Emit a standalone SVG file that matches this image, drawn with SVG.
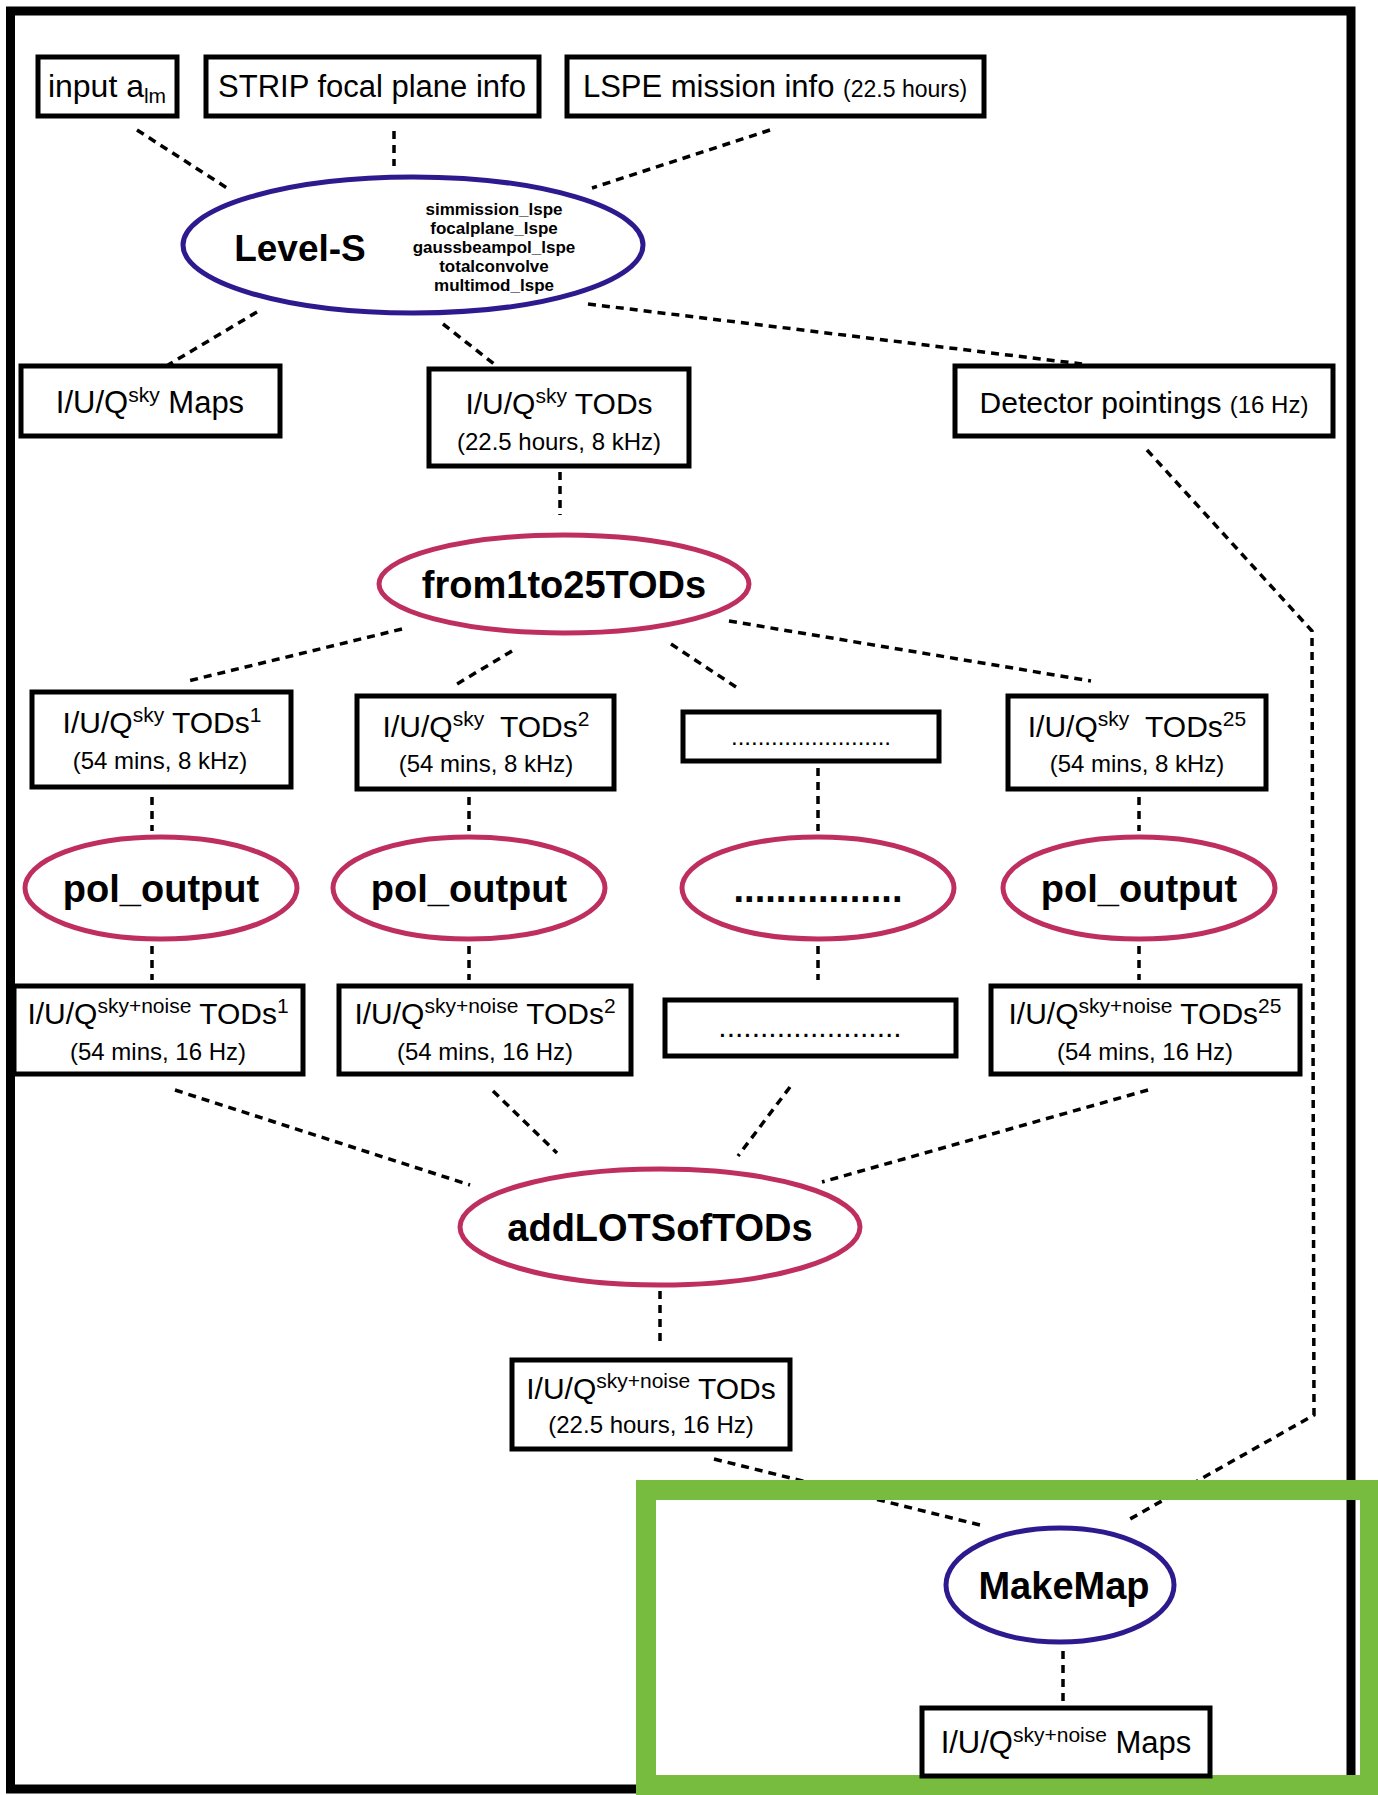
<svg xmlns="http://www.w3.org/2000/svg" width="1378" height="1795" viewBox="0 0 1378 1795">
<style>
text{font-family:"Liberation Sans",Arial,sans-serif;fill:#000}
.box{fill:#fff;stroke:#000;stroke-width:5}
.pink{fill:#fff;stroke:#BE2F5F;stroke-width:5}
.blue{fill:#fff;stroke:#2E1A8E;stroke-width:5}
.c line,.c path{fill:none;stroke:#000;stroke-width:3.5;stroke-dasharray:8 6}
.t{font-size:30px;text-anchor:middle}
.s{font-size:24px;text-anchor:middle}
.b{font-weight:bold;text-anchor:middle;font-size:38px}
.l{font-weight:bold;font-size:17px;text-anchor:middle}
</style>
<rect x="0" y="0" width="1378" height="1795" fill="#fff"/>
<rect x="10.5" y="11" width="1340.5" height="1778" fill="none" stroke="#000" stroke-width="9"/>

<g class="c" id="connectors">
<line x1="137" y1="130" x2="227" y2="188"/>
<line x1="394" y1="131" x2="394" y2="166"/>
<line x1="770" y1="130" x2="592" y2="188"/>
<line x1="257" y1="312" x2="168" y2="365"/>
<line x1="443" y1="324" x2="494" y2="364"/>
<line x1="588" y1="304" x2="1082" y2="364"/>
<line x1="560" y1="472" x2="560" y2="515"/>
<line x1="402" y1="629" x2="188" y2="681"/>
<line x1="512" y1="651" x2="457" y2="684"/>
<line x1="671" y1="644" x2="736" y2="687"/>
<line x1="729" y1="621" x2="1091" y2="681"/>
<line x1="152" y1="797" x2="152" y2="831"/>
<line x1="469" y1="797" x2="469" y2="831"/>
<line x1="818" y1="768" x2="818" y2="831"/>
<line x1="1139" y1="797" x2="1139" y2="831"/>
<line x1="152" y1="946" x2="152" y2="980"/>
<line x1="469" y1="946" x2="469" y2="980"/>
<line x1="818" y1="946" x2="818" y2="980"/>
<line x1="1139" y1="946" x2="1139" y2="980"/>
<line x1="175" y1="1090" x2="470" y2="1185"/>
<line x1="493" y1="1091" x2="557" y2="1153"/>
<line x1="790" y1="1087" x2="738" y2="1156"/>
<line x1="1148" y1="1090" x2="822" y2="1182"/>
<line x1="660" y1="1291" x2="660" y2="1341"/>
<line x1="714" y1="1459" x2="984" y2="1526"/>
<path d="M1147,450 L1312,631 L1314,1415 L1130,1519"/>
<line x1="1063" y1="1651" x2="1063" y2="1702"/>
</g>

<g id="input_alm">
<rect class="box" x="38" y="57" width="139" height="59"/>
<text class="t" x="107" y="97" style="font-size:32px">input a<tspan font-size="21" dy="6">lm</tspan></text>
</g>
<g id="strip">
<rect class="box" x="206" y="57" width="333" height="59"/>
<text class="t" x="372" y="97" style="font-size:31px">STRIP focal plane info</text>
</g>
<g id="lspe">
<rect class="box" x="567" y="57" width="417" height="59"/>
<text class="t" x="775" y="97" style="font-size:31px">LSPE mission info <tspan font-size="23">(22.5 hours)</tspan></text>
</g>

<g id="levels">
<ellipse class="blue" cx="413" cy="245" rx="230" ry="68"/>
<text class="b" x="300" y="261" style="font-size:37px">Level-S</text>
<text class="l" x="494" y="215">simmission_lspe</text>
<text class="l" x="494" y="234">focalplane_lspe</text>
<text class="l" x="494" y="253">gaussbeampol_lspe</text>
<text class="l" x="494" y="272">totalconvolve</text>
<text class="l" x="494" y="291">multimod_lspe</text>
</g>

<g id="sky_maps">
<rect class="box" x="21" y="366" width="259" height="70"/>
<text class="t" x="150" y="413" style="font-size:31px">I/U/Q<tspan font-size="21" dy="-11">sky</tspan><tspan dy="11"> Maps</tspan></text>
</g>
<g id="sky_tods">
<rect class="box" x="429" y="369" width="260" height="97"/>
<text class="t" x="559" y="414">I/U/Q<tspan font-size="21" dy="-11">sky</tspan><tspan dy="11"> TODs</tspan></text>
<text class="s" x="559" y="450">(22.5 hours, 8 kHz)</text>
</g>
<g id="detector">
<rect class="box" x="955" y="366" width="378" height="70"/>
<text class="t" x="1144" y="413">Detector pointings <tspan font-size="24">(16 Hz)</tspan></text>
</g>

<g id="from1to25">
<ellipse class="pink" cx="564" cy="584" rx="185" ry="49"/>
<text class="b" x="564" y="598">from1to25TODs</text>
</g>

<g id="tods1">
<rect class="box" x="32" y="692" width="259" height="95"/>
<text class="t" x="162" y="733">I/U/Q<tspan font-size="21" dy="-11">sky</tspan><tspan dy="11"> TODs</tspan><tspan font-size="21" dy="-11">1</tspan></text>
<text class="s" x="160" y="769">(54 mins, 8 kHz)</text>
</g>
<g id="tods2">
<rect class="box" x="357" y="696" width="257" height="93"/>
<text class="t" x="486" y="737">I/U/Q<tspan font-size="21" dy="-11">sky</tspan><tspan dy="11" dx="8"> TODs</tspan><tspan font-size="21" dy="-11">2</tspan></text>
<text class="s" x="486" y="772">(54 mins, 8 kHz)</text>
</g>
<g id="tods_dots">
<rect class="box" x="683" y="712" width="256" height="49"/>
<text class="s" x="811" y="745">........................</text>
</g>
<g id="tods25">
<rect class="box" x="1008" y="696" width="258" height="93"/>
<text class="t" x="1137" y="737">I/U/Q<tspan font-size="21" dy="-11">sky</tspan><tspan dy="11" dx="8"> TODs</tspan><tspan font-size="21" dy="-11">25</tspan></text>
<text class="s" x="1137" y="772">(54 mins, 8 kHz)</text>
</g>

<g id="pol1">
<ellipse class="pink" cx="161" cy="888" rx="136" ry="51"/>
<text class="b" x="161" y="902">pol_output</text>
</g>
<g id="pol2">
<ellipse class="pink" cx="469" cy="888" rx="136" ry="51"/>
<text class="b" x="469" y="902">pol_output</text>
</g>
<g id="pol_dots">
<ellipse class="pink" cx="818" cy="888" rx="136" ry="51"/>
<text class="b" x="818" y="902">................</text>
</g>
<g id="pol25">
<ellipse class="pink" cx="1139" cy="888" rx="136" ry="51"/>
<text class="b" x="1139" y="902">pol_output</text>
</g>

<g id="noise1">
<rect class="box" x="14" y="986" width="289" height="88"/>
<text class="t" x="158" y="1024">I/U/Q<tspan font-size="21" dy="-11">sky+noise</tspan><tspan dy="11"> TODs</tspan><tspan font-size="21" dy="-11">1</tspan></text>
<text class="s" x="158" y="1060">(54 mins, 16 Hz)</text>
</g>
<g id="noise2">
<rect class="box" x="339" y="986" width="292" height="88"/>
<text class="t" x="485" y="1024">I/U/Q<tspan font-size="21" dy="-11">sky+noise</tspan><tspan dy="11"> TODs</tspan><tspan font-size="21" dy="-11">2</tspan></text>
<text class="s" x="485" y="1060">(54 mins, 16 Hz)</text>
</g>
<g id="noise_dots">
<rect class="box" x="665" y="1000" width="291" height="56"/>
<text class="t" x="810" y="1037">......................</text>
</g>
<g id="noise25">
<rect class="box" x="991" y="986" width="309" height="88"/>
<text class="t" x="1145" y="1024">I/U/Q<tspan font-size="21" dy="-11">sky+noise</tspan><tspan dy="11"> TODs</tspan><tspan font-size="21" dy="-11">25</tspan></text>
<text class="s" x="1145" y="1060">(54 mins, 16 Hz)</text>
</g>

<g id="addlots">
<ellipse class="pink" cx="660" cy="1227" rx="200" ry="58"/>
<text class="b" x="660" y="1241">addLOTSofTODs</text>
</g>

<g id="final_tods">
<rect class="box" x="512" y="1360" width="278" height="89"/>
<text class="t" x="651" y="1399">I/U/Q<tspan font-size="21" dy="-11">sky+noise</tspan><tspan dy="11"> TODs</tspan></text>
<text class="s" x="651" y="1433">(22.5 hours, 16 Hz)</text>
</g>

<rect x="646" y="1490" width="724" height="295" fill="none" stroke="#78BC3F" stroke-width="20"/>

<g id="makemap">
<ellipse class="blue" cx="1060" cy="1585" rx="114" ry="57"/>
<text class="b" x="1064" y="1599">MakeMap</text>
</g>
<g id="final_maps">
<rect class="box" x="922" y="1708" width="288" height="68"/>
<text class="t" x="1066" y="1753" style="font-size:31px">I/U/Q<tspan font-size="21" dy="-11">sky+noise</tspan><tspan dy="11"> Maps</tspan></text>
</g>
</svg>
